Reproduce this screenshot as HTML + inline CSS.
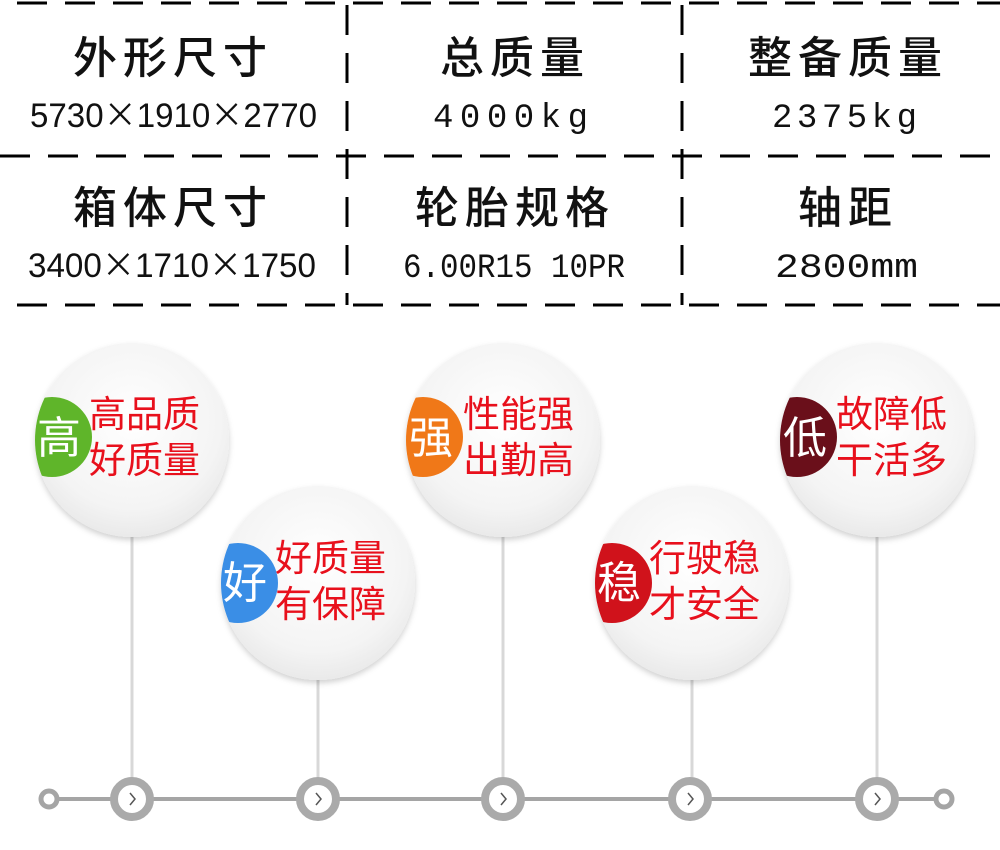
<!DOCTYPE html>
<html><head><meta charset="utf-8"><style>
html,body{margin:0;padding:0;background:#fff;width:1000px;height:850px;overflow:hidden}
</style></head><body>
<svg width="1000" height="850" xmlns="http://www.w3.org/2000/svg" font-family="Liberation Sans, Noto Sans CJK SC, sans-serif">
<defs>
<radialGradient id="g" cx="0.5" cy="0.4" r="0.65">
<stop offset="0" stop-color="#ffffff"/><stop offset="0.7" stop-color="#f4f4f4"/><stop offset="1" stop-color="#e6e6e6"/>
</radialGradient>
<filter id="sh" x="-20%" y="-20%" width="140%" height="150%"><feDropShadow dx="0" dy="3" stdDeviation="3" flood-color="#000" flood-opacity="0.18"/></filter>
<clipPath id="c1"><circle cx="132" cy="440" r="97"/></clipPath>
<clipPath id="c2"><circle cx="318" cy="583" r="97"/></clipPath>
<clipPath id="c3"><circle cx="503" cy="440" r="97"/></clipPath>
<clipPath id="c4"><circle cx="692" cy="583" r="97"/></clipPath>
<clipPath id="c5"><circle cx="877" cy="440" r="97"/></clipPath>
</defs>
<g stroke="#000" stroke-width="3" stroke-dasharray="30 18">
<line x1="17" y1="3" x2="1000" y2="3"/>
<line x1="0" y1="156" x2="1000" y2="156"/>
<line x1="17" y1="305" x2="1000" y2="305"/>
<line x1="347" y1="5" x2="347" y2="305"/>
<line x1="682" y1="5" x2="682" y2="305"/>
</g>
<g font-size="44" font-weight="500" text-anchor="middle" fill="#111" font-family="Noto Sans CJK SC, sans-serif" letter-spacing="6">
<text x="173" y="73">外形尺寸</text><text x="515" y="73">总质量</text><text x="848" y="73">整备质量</text>
<text x="173" y="223">箱体尺寸</text><text x="515" y="223">轮胎规格</text><text x="848" y="223">轴距</text>
</g>
<g font-size="34" fill="#111" font-family="Liberation Sans, Noto Sans CJK SC, sans-serif">
<text x="30" y="127" textLength="287" lengthAdjust="spacingAndGlyphs">5730<tspan font-family="Noto Sans CJK SC">×</tspan>1910<tspan font-family="Noto Sans CJK SC">×</tspan>2770</text>
<text x="433" y="127" textLength="155" lengthAdjust="spacing" font-family="Liberation Mono, monospace">4000kg</text>
<text x="772" y="127" textLength="145" lengthAdjust="spacing" font-family="Liberation Mono, monospace">2375kg</text>
<text x="28" y="277" textLength="288" lengthAdjust="spacingAndGlyphs">3400<tspan font-family="Noto Sans CJK SC">×</tspan>1710<tspan font-family="Noto Sans CJK SC">×</tspan>1750</text>
<text x="403" y="277" textLength="222" lengthAdjust="spacingAndGlyphs" font-family="Liberation Mono, monospace">6.00R15 10PR</text>
<text x="775" y="277" textLength="143" lengthAdjust="spacingAndGlyphs" font-family="Liberation Mono, monospace">2800mm</text>
</g>
<g stroke="#d8d8d8" stroke-width="3">
<line x1="132" y1="530" x2="132" y2="790"/><line x1="318" y1="675" x2="318" y2="790"/>
<line x1="503" y1="530" x2="503" y2="790"/><line x1="692" y1="675" x2="692" y2="790"/>
<line x1="877" y1="530" x2="877" y2="790"/>
</g>
<line x1="55" y1="799" x2="938" y2="799" stroke="#a5a5a5" stroke-width="4"/>
<circle cx="49" cy="799" r="8" fill="#fff" stroke="#a5a5a5" stroke-width="5"/>
<circle cx="944" cy="799" r="8" fill="#fff" stroke="#a5a5a5" stroke-width="5"/>
<g fill="#fff" stroke="#aaa" stroke-width="8">
<circle cx="132" cy="799" r="18"/><circle cx="318" cy="799" r="18"/><circle cx="503" cy="799" r="18"/><circle cx="690" cy="799" r="18"/><circle cx="877" cy="799" r="18"/>
</g>
<g fill="none" stroke="#555" stroke-width="1.5">
<path d="M130 793l5 6-5 6"/><path d="M316 793l5 6-5 6"/><path d="M501 793l5 6-5 6"/><path d="M688 793l5 6-5 6"/><path d="M875 793l5 6-5 6"/>
</g>
<g filter="url(#sh)" fill="url(#g)">
<circle cx="132" cy="440" r="97"/><circle cx="318" cy="583" r="97"/><circle cx="503" cy="440" r="97"/><circle cx="692" cy="583" r="97"/><circle cx="877" cy="440" r="97"/>
</g>
<circle clip-path="url(#c1)" cx="52" cy="437" r="40" fill="#5fb52a"/>
<circle clip-path="url(#c2)" cx="238" cy="583" r="40" fill="#3a8ee6"/>
<circle clip-path="url(#c3)" cx="423" cy="437" r="40" fill="#f07818"/>
<circle clip-path="url(#c4)" cx="612" cy="583" r="40" fill="#d0121b"/>
<circle clip-path="url(#c5)" cx="797" cy="437" r="40" fill="#6a0f1a"/>
<g fill="#fff" font-size="44" text-anchor="middle" font-family="Noto Sans CJK SC, sans-serif">
<text x="59" y="453">高</text><text x="245" y="598">好</text><text x="431" y="453">强</text><text x="619" y="598">稳</text><text x="805" y="453">低</text>
</g>
<g fill="#e8101c" font-size="37" font-family="Noto Sans CJK SC, sans-serif">
<text x="89" y="427">高品质</text><text x="89" y="473">好质量</text>
<text x="275" y="571">好质量</text><text x="275" y="617">有保障</text>
<text x="463" y="427">性能强</text><text x="463" y="473">出勤高</text>
<text x="649" y="571">行驶稳</text><text x="649" y="617">才安全</text>
<text x="836" y="427">故障低</text><text x="836" y="473">干活多</text>
</g>
</svg>
</body></html>
